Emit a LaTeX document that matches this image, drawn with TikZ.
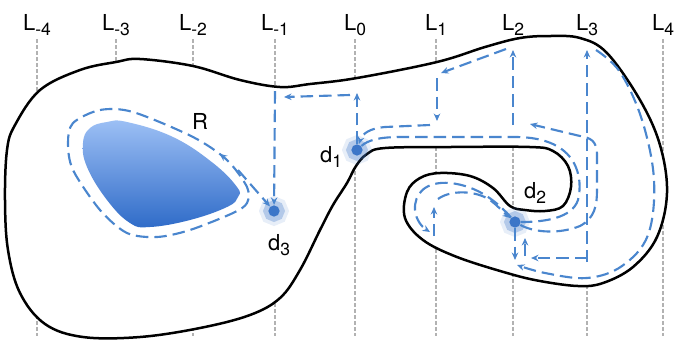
\documentclass[tikz,border=0pt]{standalone}
\usepackage{fontspec}
\setmainfont{TeX Gyre Heros}
\usetikzlibrary{arrows.meta,decorations.markings}

\definecolor{flowblue}{RGB}{74,134,206}
\definecolor{dotblue}{RGB}{60,118,200}
\definecolor{blobtop}{RGB}{157,192,245}
\definecolor{blobbot}{RGB}{47,107,200}
\newcommand{\lsub}[1]{\raisebox{-0.5ex}{\fontsize{7}{8}\selectfont #1}}

\begin{document}
\begin{tikzpicture}[x=0.4pt, y=-0.4pt,
    >={Stealth[length=3pt,width=2.6pt]},
    lvl/.style={draw=gray!60, line width=0.5pt, dash pattern=on 1.6pt off 0.8pt},
    lbl/.style={inner sep=0pt, font=\fontsize{8.8}{10}\selectfont},
    rim/.style={draw=black, line width=1pt},
    flow/.style={draw=flowblue, line width=0.85pt, dash pattern=on 5pt off 2.4pt},
    crit/.style={circle, inner sep=0pt, minimum size=4.5pt, fill=dotblue,
      preaction={draw=dotblue, draw opacity=0.3, line width=4pt},
      postaction={draw=dotblue, draw opacity=0.12, line width=7pt}}]
  \useasboundingbox (0,0) rectangle (680,342);

  \foreach \i/\x in {-4/37,-3/116,-2/193,-1/275,0/355,1/436,2/513,3/587,4/663} {
    \node[lbl, anchor=base] (L\i) at (\x,30) {L\lsub{\i}};
    \coordinate (B\i) at (\x,336);
    \draw[lvl] ([yshift=-1pt]L\i.south) -- (B\i);
  }

  \filldraw[rim, fill=white] plot[smooth cycle, tension=0.6] coordinates {
    (7,150) (15,125) (40,90) (80,70) (116,62) (140,59) (193,66) (240,80)
    (280,87) (310,84) (357,78) (437,62) (485,47) (520,38) (550,36) (580,38)
    (607,53) (640,100) (660,145) (667,193) (657,237) (633,267) (603,283)
    (578,286) (540,281) (507,273) (457,257) (423,240) (405,218) (407,192)
    (420,178) (440,173) (470,176) (493,188) (510,206) (525,210) (545,211)
    (563,206) (571,187) (568,166) (553,151) (530,147) (450,147) (385,148)
    (367,154) (356,166) (347,183) (333,205) (320,230) (300,270) (280,298)
    (250,315) (200,328) (140,337) (83,337) (45,324) (20,293) (8,250) (5,200)};

  \shade[top color=blobtop, bottom color=blobbot] plot[smooth cycle, tension=0.7] coordinates {
    (90,128) (107,122) (127,122) (173,137) (213,163) (237,187) (238,197)
    (227,207) (190,220) (150,227) (130,223) (107,200) (87,167) (83,143)};

  \node[crit] (d1) at (357,150) {};
  \node[crit] (d2) at (515,222) {};
  \node[crit] (d3) at (274,211) {};

  \node[lbl] (R) at (200,121) {R};
  \node[lbl] (t1) at (331,157) {d\lsub{1}};
  \node[lbl] (t2) at (535,193) {d\lsub{2}};
  \node[lbl] (t3) at (279,245) {d\lsub{3}};

  \draw[flow, postaction={decorate, decoration={markings,
      mark=at position 0.27 with {\arrowreversed{Stealth[length=3pt,width=2.6pt]}}}}]
    plot[smooth cycle] coordinates {(73,123) (100,110) (133,112) (193,137) (227,160)
      (247,187) (247,203) (233,213) (190,230) (157,237) (127,233) (100,210) (73,170) (68,143)};
  \draw[flow,->] (238,170) -- (d3);

  \draw[flow,->] (d1) -- (357,93);
  \draw[flow,->] (350,95) -- (284,97);
  \draw[flow,->] (275,91) -- (d3);

  \draw[flow,->] (513,125) -- (513,50);
  \draw[flow,->] (506,49) -- (441,73);
  \draw[flow,->] (437,78) -- (437,121);
  \draw[flow,->] (430,125) -- (385,127) .. controls (370,128) and (362,134) .. (d1);

  \draw[flow] (d1) .. controls (368,140) and (380,137) .. (400,137) -- (515,137)
    .. controls (580,137) and (583,180) .. (578,200)
    .. controls (572,218) and (545,222) .. (d2);
  \draw[flow,->] (d2) .. controls (535,233) and (560,234) .. (580,226)
    .. controls (595,218) and (597,205) .. (597,190) -- (597,155)
    .. controls (597,140) and (590,138) .. (580,136) -- (530,124);

  \draw[flow, line width=1.1pt, ->] (587,262) -- (587,50);
  \draw[flow,->] plot[smooth, tension=0.6] coordinates {(596,50) (620,72) (642,120)
    (654,180) (648,235) (622,266) (587,278) (545,273) (517,265)};

  \draw[flow,->] (d2) -- (515,260);
  \draw[flow,->] (587,258) -- (531,258);
  \draw[flow,->] (525,256) -- (525,238);

  \draw[flow,->] (d2) .. controls (500,205) and (480,186) .. (450,183)
    .. controls (425,181) and (414,194) .. (415,210)
    .. controls (416,220) and (422,227) .. (430,232);
  \draw[flow,->] (434,236) -- (434,207);
  \draw[flow,->] (438,199) .. controls (450,190) and (475,190) .. (490,200)
    .. controls (498,206) and (503,212) .. (d2);
\end{tikzpicture}
\end{document}
